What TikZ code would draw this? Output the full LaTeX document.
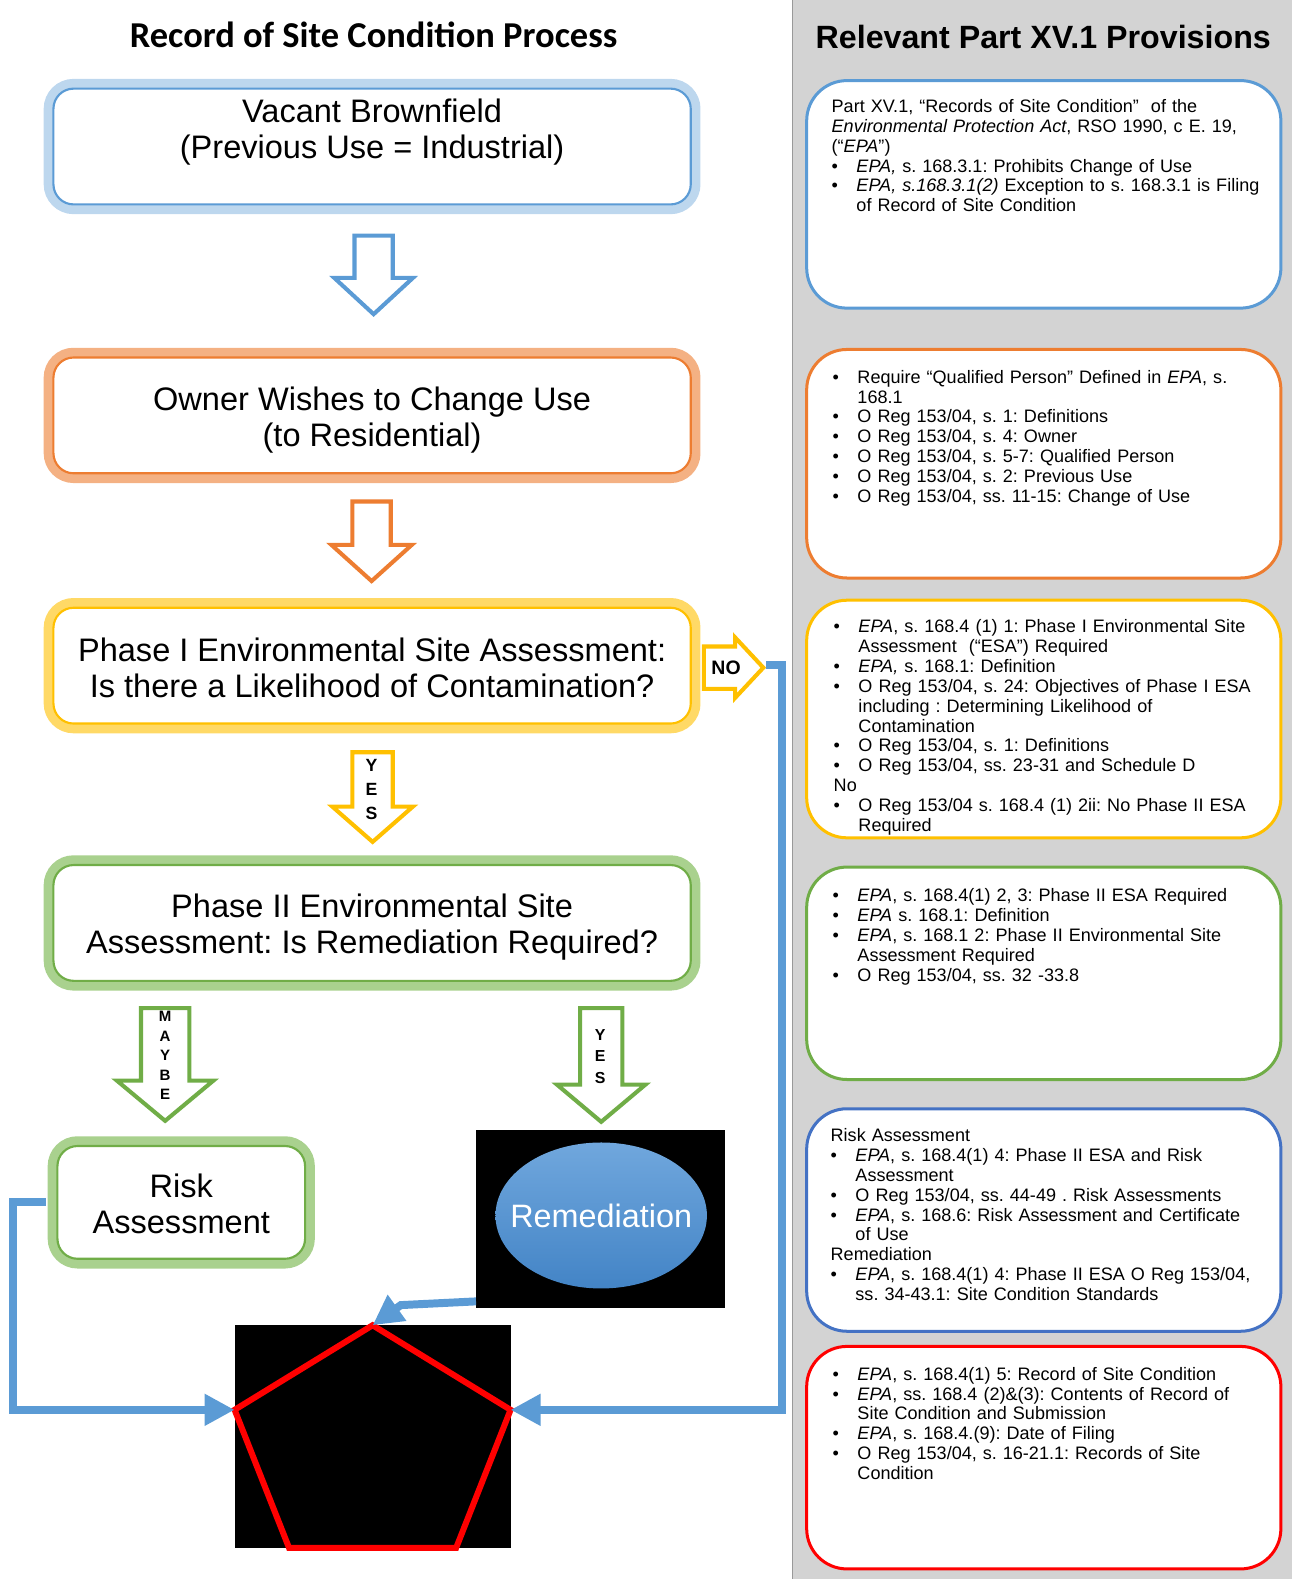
\documentclass[tikz,border=0pt]{standalone}
\usepackage{fontspec}
\setmainfont{Liberation Sans}
\newfontfamily\calibri{Carlito}
\usetikzlibrary{positioning,arrows.meta,calc,shapes.geometric}
\setlength{\parindent}{0pt}
\frenchspacing

\definecolor{cblue}{HTML}{5B9BD5}
\definecolor{cbluel}{HTML}{BDD7EE}
\definecolor{corange}{HTML}{ED7D31}
\definecolor{corangel}{HTML}{F4B183}
\definecolor{cyellow}{HTML}{FFC000}
\definecolor{cyellowl}{HTML}{FFD966}
\definecolor{cgreen}{HTML}{70AD47}
\definecolor{cgreenl}{HTML}{A9D18E}
\definecolor{cdblue}{HTML}{4472C4}
\definecolor{panelgray}{HTML}{D3D3D3}
\definecolor{remtop}{HTML}{70A7DD}
\definecolor{rembot}{HTML}{4384C6}

\newcommand{\bitem}{\par\hangindent=14pt\hangafter=1\makebox[14pt][l]{\textbullet}}
\newcommand{\lowered}[2]{\raisebox{-#1}[\height][\depth]{\begin{tabular}{@{}c@{}}#2\end{tabular}}}
\newcommand{\downarr}[7]{\draw[#1,line width=2.3pt,fill=white,line join=miter]
  (#2-#6,#3) -- (#2+#6,#3) -- (#2+#6,#4) -- (#2+#7,#4) -- (#2,#5) -- (#2-#7,#4) -- (#2-#6,#4) -- cycle;}
\newcommand{\rightarr}[7]{\draw[#1,line width=2.3pt,fill=white,line join=miter]
  (#3,#2-#6) -- (#4,#2-#6) -- (#4,#2-#7) -- (#5,#2) -- (#4,#2+#7) -- (#4,#2+#6) -- (#3,#2+#6) -- cycle;}

\begin{document}
\begin{tikzpicture}[x=0.02cm,y=-0.02cm,
	stage/.style 2 args={draw=#1,line width=1.2pt,fill=white,rounded corners=0.4cm,
		preaction={draw=#2,line width=11pt},minimum width=12.66cm,minimum height=2.3cm,
		align=center,font=\fontsize{18.4}{20.4}\selectfont},
	prov/.style={draw=#1,line width=1.7pt,fill=white,rounded corners=0.8cm,minimum width=9.42cm},
	provtext/.style={anchor=north west,inner sep=0pt,text width=9cm,align=left,
		font=\fontsize{10.2}{11.2}\selectfont},
	flow/.style={draw=cblue,line width=4.5pt,line join=miter,-{Triangle[length=17pt,width=17pt]}},
	letters/.style={inner sep=0pt,align=center}]
	\useasboundingbox (0,0) rectangle (1283,1568);
	\fill[panelgray] (787,0) rectangle (1283,1568);
	\draw[gray!80,line width=0.8pt] (787,0) -- (787,1568);

	\node[font=\calibri\bfseries\fontsize{20.6}{22}\selectfont] (lefttitle) at (371,35) {Record of Site Condition Process};
	\node[font=\bfseries\fontsize{18.2}{20}\selectfont] (righttitle) at (1036,37) {Relevant Part XV.1 Provisions};

	\node[prov=cblue,minimum height=4.52cm] (epa) at (1036.5,193) {};
	\node[prov=corange,minimum height=4.54cm] (qualified) at (1036.5,460.5) {};
	\node[prov=cyellow,minimum height=4.72cm] (phaseone) at (1036.5,714) {};
	\node[prov=cgreen,minimum height=4.22cm] (phasetwo) at (1036.5,966.5) {};
	\node[prov=cdblue,minimum height=4.42cm] (remrisk) at (1036.5,1211.5) {};
	\node[prov=red,minimum height=4.42cm] (record) at (1036.5,1447.5) {};

	\node[provtext] (epatext) at ($(epa.north west)+(26,20)$) {Part XV.1, “Records of Site Condition”\ \ of the\newline
		\emph{Environmental Protection Act}, RSO 1990, c E. 19,\newline (“\emph{EPA}”)
		\bitem \emph{EPA,} s. 168.3.1: Prohibits Change of Use
		\bitem \emph{EPA, s.168.3.1(2)} Exception to s. 168.3.1 is Filing\newline of Record of Site Condition\par};
	\node[provtext] (qualtext) at ($(qualified.north west)+(27,15)$) {\bitem Require “Qualified Person” Defined in \emph{EPA}, s.\newline 168.1
		\bitem O Reg 153/04, s. 1: Definitions
		\bitem O Reg 153/04, s. 4: Owner
		\bitem O Reg 153/04, s. 5-7: Qualified Person
		\bitem O Reg 153/04, s. 2: Previous Use
		\bitem O Reg 153/04, ss. 11-15: Change of Use\par};
	\node[provtext] (phaseonetext) at ($(phaseone.north west)+(28,14)$) {\bitem \emph{EPA}, s. 168.4 (1) 1: Phase I Environmental Site\newline Assessment\ \ (“ESA”) Required
		\bitem \emph{EPA,} s. 168.1: Definition
		\bitem O Reg 153/04, s. 24: Objectives of Phase I ESA\newline including : Determining Likelihood of\newline Contamination
		\bitem O Reg 153/04, s. 1: Definitions
		\bitem O Reg 153/04, ss. 23-31 and Schedule D
		\par No
		\bitem O Reg 153/04 s. 168.4 (1) 2ii: No Phase II ESA\newline Required\par};
	\node[provtext] (phasetwotext) at ($(phasetwo.north west)+(27,16)$) {\bitem \emph{EPA}, s. 168.4(1) 2, 3: Phase II ESA Required
		\bitem \emph{EPA} s. 168.1: Definition
		\bitem \emph{EPA}, s. 168.1 2: Phase II Environmental Site\newline Assessment Required
		\bitem O Reg 153/04, ss. 32 -33.8\par};
	\node[provtext] (remrisktext) at ($(remrisk.north west)+(25,21)$) {Risk Assessment
		\bitem \emph{EPA}, s. 168.4(1) 4: Phase II ESA and Risk\newline Assessment
		\bitem O Reg 153/04, ss. 44-49 . Risk Assessments
		\bitem \emph{EPA}, s. 168.6: Risk Assessment and Certificate\newline of Use
		\par Remediation
		\bitem \emph{EPA}, s. 168.4(1) 4: Phase II ESA O Reg 153/04,\newline ss. 34-43.1: Site Condition Standards\par};
	\node[provtext] (recordtext) at ($(record.north west)+(27,15)$) {\bitem \emph{EPA}, s. 168.4(1) 5: Record of Site Condition
		\bitem \emph{EPA}, ss. 168.4 (2)\&(3): Contents of Record of\newline Site Condition and Submission
		\bitem \emph{EPA}, s. 168.4.(9): Date of Filing
		\bitem O Reg 153/04, s. 16-21.1: Records of Site\newline Condition\par};

	\node[stage={cblue}{cbluel}] (vacant) at (369.5,145.5) {Vacant Brownfield\\(Previous Use = Industrial)\\\mbox{}};
	\node[stage={corange}{corangel}] (owner) at (369.5,412.5) {\lowered{3.4pt}{Owner Wishes to Change Use\\(to Residential)}};
	\node[stage={cyellow}{cyellowl}] (phasei) at (369.5,661) {\lowered{3.9pt}{Phase I Environmental Site Assessment:\\Is there a Likelihood of Contamination?}};
	\node[stage={cgreen}{cgreenl}] (phaseii) at (369.5,916.5) {\lowered{3.2pt}{Phase II Environmental Site\\Assessment: Is Remediation Required?}};
	\node[stage={cgreen}{cgreenl},minimum width=4.92cm,minimum height=2.24cm] (risk) at (180,1194) {\lowered{3.1pt}{Risk\\Assessment}};

	\downarr{cblue}{371}{234}{276}{312}{19}{39}
	\downarr{corange}{369}{498}{541}{577}{19}{40}
	\downarr{cyellow}{370}{747}{801}{836}{20}{40}
	\downarr{cgreen}{164}{1001}{1073}{1113}{24}{48}
	\downarr{cgreen}{597}{1001}{1077}{1114}{21}{44}
	\rightarr{cyellow}{663}{699}{730}{758}{21}{30}
	\node[letters,font=\bfseries\fontsize{11}{12}\selectfont] (no) at (721,663) {NO};
	\node[letters,font=\bfseries\fontsize{10}{13.6}\selectfont] (yesone) at (369,784) {Y\\E\\S};
	\node[letters,font=\bfseries\fontsize{8.5}{11}\selectfont] (maybe) at (164,1048) {M\\A\\Y\\B\\E};
	\node[letters,font=\bfseries\fontsize{9}{12.2}\selectfont] (yestwo) at (596,1049) {Y\\E\\S};

	\node[fill=black,inner sep=0pt,minimum width=4.94cm,minimum height=3.54cm] (rembox) at (596.5,1210.5) {};
	\node[ellipse,inner sep=0pt,top color=remtop,bottom color=rembot,minimum width=4.2cm,minimum height=2.9cm] (remed) at (597,1207) {};
	\node[text=white,font=\fontsize{18.3}{20}\selectfont] (remlabel) at (remed.center) {Remediation};

	\node[fill=black,inner sep=0pt,minimum width=5.48cm,minimum height=4.42cm] (pentbox) at (370,1426.5) {};
	\coordinate (pT) at (370,1316);
	\coordinate (pL) at (233,1400);
	\coordinate (pR) at (507,1400);
	\coordinate (pBL) at (287,1537);
	\coordinate (pBR) at (453,1537);
	\draw[red,line width=3.4pt,line join=miter] (pT) -- (pR) -- (pBR) -- (pBL) -- (pL) -- cycle;

	\coordinate (lbend) at (13,1400);
	\coordinate (notip) at (761,660);
	\coordinate (rbend) at (777,1400);
	\coordinate (remknee) at (398,1296);
	\draw[flow,shorten <=6pt] (risk.west) -| (lbend) -- (pL);
	\draw[flow] (notip) -| (rbend) -- (pR);
	\draw[flow] ([yshift=4pt]rembox.south west) -- (remknee) -- (pT);
\end{tikzpicture}
\end{document}
